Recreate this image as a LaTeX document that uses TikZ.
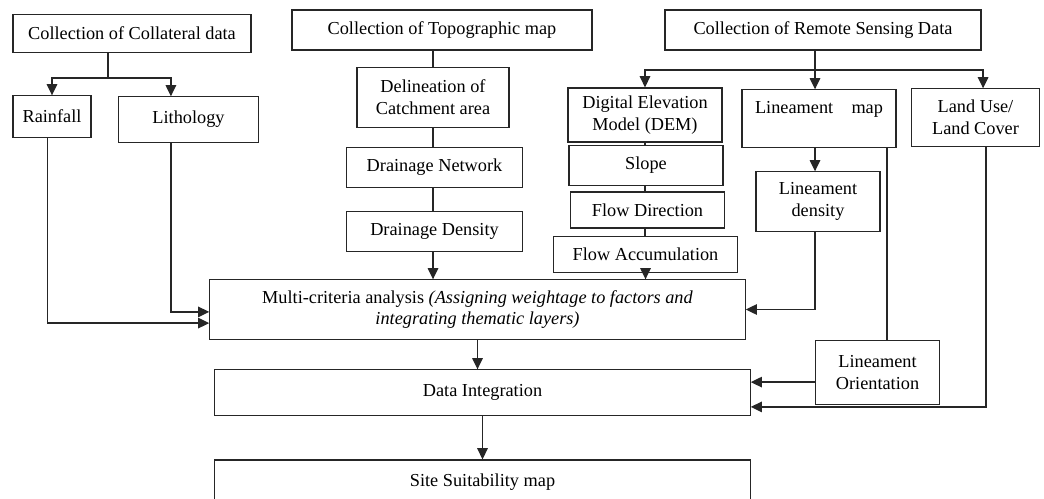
\documentclass[tikz,border=0pt]{standalone}
\usepackage{fontspec}
\setmainfont{Liberation Serif}
\usepackage{tikz}
\usetikzlibrary{arrows.meta,positioning,calc}

\begin{document}
\begin{tikzpicture}[x=0.025cm, y=-0.025cm, font=\fontsize{13}{15.5}\selectfont,
  box/.style={draw=black!85, line width=0.8pt, align=center, inner sep=1pt},
  ln/.style={line width=0.95pt, draw=black!85},
  arr/.style={ln, -{Triangle[length=8pt,width=7.5pt]}},
  ]
\useasboundingbox (0,0) rectangle (1044,499);
% ---- the three sources
\node[box, minimum width=5.95cm, minimum height=0.93cm] (coll) at (132,33.5) {Collection of Collateral data};
\node[box, minimum width=7.5cm, minimum height=1.0cm] (topo) at (442,30) {Collection of Topographic map};
\node[box, minimum width=7.9cm, minimum height=1.0cm] (remote) at (823,30) {Collection of Remote Sensing Data};
% ---- collateral data
\node[box, minimum width=1.95cm, minimum height=1.03cm] (rain) at (52,116.5) {Rainfall};
\node[box, minimum width=3.48cm, minimum height=1.13cm] (lith) at (188.5,119.5) {Lithology};
% ---- topographic map
\node[box, minimum width=3.8cm, minimum height=1.48cm] (delin) at (433,97.5) {Delineation of\\Catchment area};
\node[box, minimum width=4.42cm, minimum height=0.98cm] (dnet) at (434.5,167.5) {Drainage Network};
\node[box, minimum width=4.42cm, minimum height=0.98cm] (ddens) at (434.5,231.5) {Drainage Density};
% ---- remote sensing
\node[box, minimum width=3.85cm, minimum height=1.35cm] (dem) at (645,115) {Digital Elevation\\Model (DEM)};
\node[box, minimum width=3.85cm, minimum height=0.98cm] (slope) at (646,165.5) {Slope};
\node[box, minimum width=3.83cm, minimum height=0.9cm] (fdir) at (647.5,210) {Flow Direction};
\node[box, minimum width=4.58cm, minimum height=0.88cm] (facc) at (645.5,254.5) {Flow Accumulation};
\node[box, minimum width=3.85cm, minimum height=1.43cm] (lmap) at (819,118.5) {Lineament\quad map\\[-4pt]\strut};
\node[box, minimum width=3.22cm, minimum height=1.43cm] (lulc) at (975.5,117.5) {Land Use/\\Land Cover};
\node[box, minimum width=3.1cm, minimum height=1.48cm] (ldens) at (818,201.5) {Lineament\\density};
\node[box, minimum width=3.12cm, minimum height=1.58cm] (lori) at (877.5,372.5) {Lineament\\Orientation};
% ---- analysis and result
\node[box, minimum width=13.38cm, minimum height=1.48cm] (multi) at (477.5,309.5)
  {Multi-criteria analysis \textit{(Assigning weightage to factors and}\\\textit{integrating thematic layers)}};
\node[box, minimum width=13.38cm, minimum height=1.13cm] (data) at (482.5,392.5) {Data Integration};
\node[box, minimum width=13.38cm, minimum height=1.1cm] (site) at (482.5,482) {Site Suitability map};
% ---- branches
\coordinate (cj) at (108,78);
\coordinate (rj) at (815,70);
\draw[ln] (cj |- coll.south) -- (cj);
\draw[arr] (cj) -| (rain.north);
\draw[arr] (cj) -| ([xshift=-0.44cm]lith.north);
\draw[ln] (delin |- topo.south) -- (delin.north);
\draw[ln] (delin.south) -- (delin.south |- dnet.north);
\draw[ln] (delin.south |- dnet.south) -- (delin.south |- ddens.north);
\draw[arr] (delin.south |- ddens.south) -- (delin.south |- multi.north);
\draw[ln] (rj |- remote.south) -- (rj);
\draw[arr] (rj) -| (dem.north);
\draw[arr] (rj) -- (rj |- lmap.north);
\draw[arr] (rj) -| ([xshift=0.19cm]lulc.north);
\draw[ln] (dem.south) -- (dem.south |- slope.north);
\draw[ln] (dem.south |- slope.south) -- (dem.south |- fdir.north);
\draw[ln] (dem.south |- fdir.south) -- (dem.south |- facc.north);
\draw[arr] (facc.south) -- (facc.south |- multi.north);
\draw[arr] (rj |- lmap.south) -- (rj |- ldens.north);
% ---- into the analysis
\draw[arr] ([xshift=-0.12cm]rain.south) |- ([yshift=-0.34cm]multi.west);
\draw[arr] ([xshift=-0.44cm]lith.south) |- ([yshift=-0.06cm]multi.west);
\draw[arr] (rj |- ldens.south) |- (multi.east);
\draw[ln] ([xshift=0.24cm]lori.north |- lmap.south) -- ([xshift=0.24cm]lori.north);
\draw[arr] ([yshift=-0.24cm]lori.west) -- ([yshift=-0.24cm]lori.west -| data.east);
\draw[arr] ([xshift=0.26cm]lulc.south) |- ([yshift=-0.36cm]data.east);
\draw[arr] (multi) -- (multi |- data.north);
\draw[arr] (data) -- (data |- site.north);
\end{tikzpicture}
\end{document}
